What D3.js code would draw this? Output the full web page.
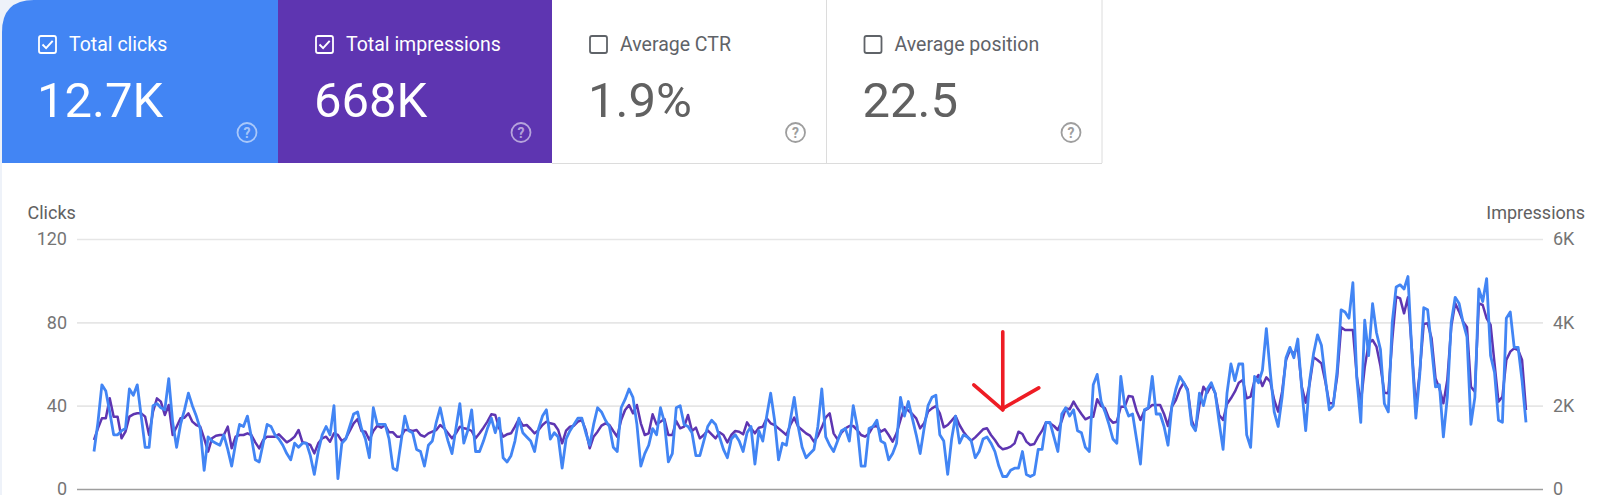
<!DOCTYPE html>
<html><head><meta charset="utf-8">
<script src="https://cdn.jsdelivr.net/npm/d3@7"></script>
<style>
body{margin:0;background:#fff;}
svg{display:block;font-family:Roboto,"Noto Sans",sans-serif;}
</style>
</head><body>
<svg id="chart" width="1600" height="495"></svg>
<script>
// ---- DATA (daily values) ----
const clicks = [
18,32,50,47,37,26,26,28,29,48,
45,50,35,20,20,40,41,39,38,53,
32,20,31,38,46,40,35,29,9,25,
23,22,21,26,19,11,22,31,30,35,
25,14,13,22,31,30,26,24,21,17,
14,22,20,22,22,16,7,18,26,
30,26,40,5,22,24,30,36,37,29,
24,15,39,31,31,31,24,10,9,22,
35,28,27,19,18,11,21,23,32,39,
30,23,17,29,41,22,28,38,18,18,
23,29,34,27,34,15,13,16,23,34,
27,25,23,18,29,35,38,24,27,25,
10,
24,28,31,34,34,27,21,31,39,37,
33,30,20,18,39,43,48,44,31,11,
17,21,29,26,39,32,13,17,39,40,
31,30,27,16,16,23,30,33,31,25,
19,15,24,26,23,18,27,30,12,28,
23,35,46,33,14,22,21,33,44,30,
20,
15,17,19,30,48,25,21,18,23,28,
29,23,40,30,11,11,29,30,33,23,
22,14,17,22,44,35,42,34,26,17,
29,40,44,45,26,23,7,24,35,22,
26,25,23,15,18,24,25,22,18,11,
6,6,9,10,10,18,7,6,7,19,
19,
32,32,25,18,36,39,35,38,28,27,
20,18,50,55,42,37,31,24,22,54,
40,35,36,24,12,38,39,54,36,36,
30,21,40,48,54,
51,47,31,28,46,40,48,51,46,32,
19,46,60,52,60,60,26,20,54,51,
57,77,56,37,30,44,63,68,63,72,
48,28,52,65,74,69,53,38,40,57,
86,85,82,99,53,32,81,64,89,75,
67,41,37,80,97,98,96,102,65,34,
55,87,86,68,49,50,25,44,80,92,
89,80,73,31,44,96,90,101,64,56,
33,32,82,85,68,68,52,32
];
const impressions = [
1176,1456,1696,1696,2176,1736,1736,1216,1376,1736,
1792,1816,1816,1736,1296,1856,2176,2096,1776,2016,
1296,1496,1696,1712,1816,1616,1536,1496,1216,896,
1216,1280,1296,1296,1496,976,1256,1296,1296,1336,
1296,1120,976,1176,1256,1256,1256,1312,1216,1120,
1176,1256,1416,1120,1096,1056,856,1096,1216,
1256,1136,1336,1296,1152,1216,1392,1576,1680,1392,
1376,1176,1392,1520,1472,1536,1360,1360,1256,1256,
1416,1416,1392,1416,1296,1256,1336,1376,1416,1536,
1456,1336,1216,1336,1496,1456,1440,1392,1216,1336,
1472,1616,1792,1776,1456,1256,1312,1336,1496,1680,
1520,1536,1440,1336,1416,1536,1616,1576,1552,1416,
1096,
1400,1496,1520,1616,1656,1416,976,1256,1376,1520,
1576,1536,1392,1256,1656,1896,2016,1816,2016,1576,
1296,1336,1792,1552,1616,1680,1296,1296,1632,1456,
1496,1776,1392,1472,1216,1296,1408,1312,1216,1360,
1296,1120,1296,1392,1376,1312,1600,1456,1336,1472,
1496,1696,1576,1536,1456,1376,1296,1536,1712,1496,
1416,
1336,1280,1136,1272,1480,1720,1816,1336,1192,1352,
1456,1512,1512,1416,1296,1256,1336,1496,1512,1376,
1432,1296,1136,1336,1656,1960,1880,1800,1696,1456,
1576,1856,1936,1992,1816,1480,1536,1640,1752,1536,
1376,1256,1160,1240,1336,1432,1456,1296,1176,1032,
952,976,1016,1096,1376,1320,1136,1056,1080,1256,
1400,
1600,1576,1512,1416,1640,1936,1912,2096,1936,1800,
1672,1720,1736,2152,1992,1936,1696,1592,1616,1976,
1976,2232,2216,1880,1656,1880,1936,2016,2016,2016,
1800,1512,1976,2136,2392,
2552,2392,1656,1416,2016,2456,2312,2496,2296,1776,
1656,2040,2176,2336,2552,2616,2176,2216,2600,2736,
2472,2680,2576,2136,1856,2336,3096,3336,3256,3400,
2456,2072,2520,3160,3096,3016,2576,2056,2056,2696,
3880,3816,3816,3816,2696,2056,2920,3496,3576,3416,
2952,2312,2296,3576,4616,4576,4216,4600,3352,1936,
2816,3960,3976,3616,2656,2416,2056,2616,3896,4456,
4256,4016,3880,2456,2336,4456,4416,4096,3936,3016,
2096,2216,3096,3296,3376,3336,3096,1896
];
const clickTicks = [0, 40, 80, 120];
const impressionTicks = [0, 2000, 4000, 6000];
const impressionTickLabels = ["0", "2K", "4K", "6K"];
const cardTitles = ["Total clicks", "Total impressions", "Average CTR", "Average position"];
const cardValues = ["12.7K", "668K", "1.9%", "22.5"];
const cardChecked = [true, true, false, false];
const arrowNote = {day: 231, clicks: 38};

// ---- LAYOUT ----
const svg = d3.select("#chart");
const W = 1600, H = 495;
const plot = {left: 77, right: 1543, top: 239, bottom: 489, lineStart: 94, lineEnd: 1526};

svg.append("rect").attr("width", W).attr("height", H).attr("fill", "#fff");
svg.append("rect").attr("x", 0).attr("y", 0).attr("width", 2).attr("height", H).attr("fill", "#eef2f9");
svg.append("rect").attr("x", 0).attr("y", 0).attr("width", 34).attr("height", 34).attr("fill", "#eef2f9");

// ---- CARDS ----
const cardX = [2, 278, 552, 826.5];
const cardW = [276, 274, 274.5, 275.5];
const cardH = 163;
const cardFill = ["#4285f4", "#5e35b1", "#fff", "#fff"];
const g = svg.append("g");
cardX.forEach((x, i) => {
  const w = cardW[i];
  if (i === 0) {
    const r = 32;
    g.append("path")
      .attr("d", `M${x},${cardH} L${x},${r} Q${x},0 ${x + r},0 L${x + w},0 L${x + w},${cardH} Z`)
      .attr("fill", cardFill[i]);
  } else {
    g.append("rect").attr("x", x).attr("y", 0).attr("width", w).attr("height", cardH).attr("fill", cardFill[i]);
  }
});
g.append("line").attr("x1", 826.5).attr("x2", 826.5).attr("y1", 0).attr("y2", cardH).attr("stroke", "#dcdcdc").attr("stroke-width", 1);
g.append("line").attr("x1", 1102).attr("x2", 1102).attr("y1", 0).attr("y2", cardH).attr("stroke", "#dcdcdc").attr("stroke-width", 1);
g.append("line").attr("x1", 552).attr("x2", 1102).attr("y1", cardH + 0.5).attr("y2", cardH + 0.5).attr("stroke", "#dcdcdc").attr("stroke-width", 1);

cardTitles.forEach((t, i) => {
  const x0 = cardX[i];
  const colored = i < 2;
  const fg = colored ? "#fff" : "#5f6368";
  const bx = x0 + (i === 0 ? 37 : 38);
  g.append("rect").attr("x", bx).attr("y", 36).attr("width", 17).attr("height", 17).attr("rx", 2)
    .attr("fill", "none").attr("stroke", colored ? "#fff" : "#5f6368").attr("stroke-width", 1.8);
  if (cardChecked[i]) {
    g.append("path").attr("d", `M${bx + 3.5},${44.5} l3.6,3.6 l6.6,-7.2`)
      .attr("fill", "none").attr("stroke", "#fff").attr("stroke-width", 2);
  }
  g.append("text").attr("x", bx + 30).attr("y", 51).attr("fill", fg)
    .attr("font-size", 19.5).text(t);
  g.append("text").attr("x", bx - 2).attr("y", 117).attr("fill", colored ? "#fff" : "#616161")
    .attr("font-size", 49).text(cardValues[i]);
  const cx = x0 + cardW[i] - 31, cy = 132.5;
  const ic = colored ? "rgba(255,255,255,0.55)" : "#9e9e9e";
  g.append("circle").attr("cx", cx).attr("cy", cy).attr("r", 9.5).attr("fill", "none")
    .attr("stroke", ic).attr("stroke-width", 1.8);
  g.append("text").attr("x", cx).attr("y", cy + 5).attr("text-anchor", "middle")
    .attr("font-size", 14).attr("font-weight", 700).attr("fill", ic).text("?");
});

// ---- CHART ----
const x = d3.scaleLinear().domain([0, clicks.length - 1]).range([plot.lineStart, plot.lineEnd]);
const yC = d3.scaleLinear().domain([0, 120]).range([plot.bottom, plot.top]);
const yI = d3.scaleLinear().domain([0, 6000]).range([plot.bottom, plot.top]);

const leftAxis = svg.append("g").attr("transform", `translate(${plot.left},0)`)
  .call(d3.axisLeft(yC).tickValues(clickTicks).tickSize(-(plot.right - plot.left)).tickPadding(10));
leftAxis.select(".domain").remove();
leftAxis.selectAll(".tick line").attr("stroke", d => d === 0 ? "#9e9e9e" : "#e6e6e6").attr("stroke-width", d => d === 0 ? 1.3 : 1.6);
leftAxis.selectAll(".tick text").attr("fill", "#757575").attr("font-size", 18).attr("font-family", "Roboto");

const rightAxis = svg.append("g").attr("transform", `translate(${plot.right},0)`)
  .call(d3.axisRight(yI).tickValues(impressionTicks).tickSize(0).tickPadding(10)
    .tickFormat((d, i) => impressionTickLabels[i]));
rightAxis.select(".domain").remove();
rightAxis.selectAll(".tick text").attr("fill", "#757575").attr("font-size", 18).attr("font-family", "Roboto");

svg.append("text").attr("x", 27.5).attr("y", 219).attr("fill", "#616161").attr("font-size", 18).text("Clicks");
svg.append("text").attr("x", 1585).attr("y", 218.5).attr("text-anchor", "end").attr("fill", "#616161").attr("font-size", 18).text("Impressions");

const lineI = d3.line().x((d, i) => x(i)).y(d => yI(d));
const lineC = d3.line().x((d, i) => x(i)).y(d => yC(d));

svg.append("path").datum(impressions).attr("d", lineI).attr("fill", "none")
  .attr("stroke", "#5e35b1").attr("stroke-width", 2.5).attr("stroke-linejoin", "round");
svg.append("path").datum(clicks).attr("d", lineC).attr("fill", "none")
  .attr("stroke", "#4285f4").attr("stroke-width", 2.8).attr("stroke-linejoin", "round");

// ---- ANNOTATION ARROW ----
const ax = x(arrowNote.day), ay = yC(arrowNote.clicks);
const ag = svg.append("g").attr("fill", "none").attr("stroke", "#ee1c24").attr("stroke-width", 3.6).attr("stroke-linecap", "round");
ag.append("line").attr("x1", ax).attr("y1", ay - 78).attr("x2", ax).attr("y2", ay);
ag.append("line").attr("x1", ax - 29).attr("y1", ay - 25).attr("x2", ax).attr("y2", ay);
ag.append("line").attr("x1", ax + 36).attr("y1", ay - 22).attr("x2", ax + 1).attr("y2", ay - 2);
</script>
</body></html>
